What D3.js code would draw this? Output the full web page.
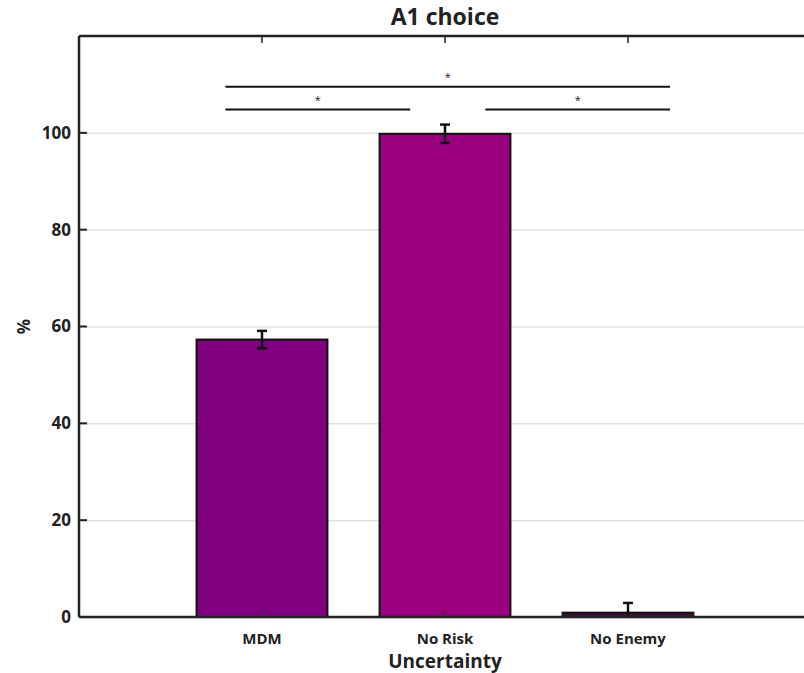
<!DOCTYPE html>
<html>
<head>
<meta charset="utf-8">
<script src="https://cdn.jsdelivr.net/npm/d3@7"></script>
<style>
  body { margin: 0; background: #fff; }
  text { font-family: "Open Sans", "DejaVu Sans", sans-serif; font-weight: 700; fill: #222; }
  .grid line { stroke: #e2e2e2; stroke-width: 1.5; }
  .grid path { display: none; }
</style>
</head>
<body>
<div id="container"></div>
<script>
// data
const categories = ['MDM', 'No Risk', 'No Enemy'];
const values = [57.3, 99.8, 0.9];
const errors = [1.8, 1.9, 2.0];
const barColors = ['#800080', '#9a0080', '#4a0a3e'];
const yTicks = [0, 20, 40, 60, 80, 100];
// significance brackets: from / to in category units, height in %
const sigFrom = [0.8, 0.8, 2.22];
const sigTo = [3.23, 1.81, 3.23];
const sigY = [109.5, 104.8, 104.8];

const W = 804, H = 673;
const margin = { top: 36, left: 79, bottom: 56 };
const plotRight = 811;

const svg = d3.select('#container').append('svg')
  .attr('width', W)
  .attr('height', H);

const x = d3.scaleLinear()
  .domain([0, categories.length + 1])
  .range([margin.left, plotRight]);

const y = d3.scaleLinear()
  .domain([0, 120])
  .range([H - margin.bottom, margin.top]);

const slot = x(1) - x(0);
const barW = slot * 0.715;

// grid lines
svg.append('g')
  .attr('class', 'grid')
  .attr('transform', `translate(${margin.left},0)`)
  .call(d3.axisRight(y).tickValues(yTicks).tickSize(plotRight - margin.left).tickFormat(''));

// bars
svg.selectAll('.bar')
  .data(values)
  .enter()
  .append('rect')
  .attr('class', 'bar')
  .attr('x', (d, i) => x(i + 1) - barW / 2)
  .attr('y', (d) => y(d))
  .attr('width', barW)
  .attr('height', (d) => y(0) - y(d))
  .attr('fill', (d, i) => barColors[i])
  .attr('stroke', '#111')
  .attr('stroke-width', 2);

// bottom ticks (pointing up, drawn over bars)
svg.append('g')
  .selectAll('line')
  .data(categories)
  .enter()
  .append('line')
  .attr('x1', (d, i) => x(i + 1))
  .attr('x2', (d, i) => x(i + 1))
  .attr('y1', y(0))
  .attr('y2', y(0) - 6)
  .attr('stroke', '#4a2a40')
  .attr('stroke-width', 1.5);

// error bars
svg.append('clipPath').attr('id', 'plotclip')
  .append('rect')
  .attr('x', margin.left).attr('y', margin.top)
  .attr('width', plotRight - margin.left).attr('height', y(0) - margin.top);

const eb = svg.append('g').attr('clip-path', 'url(#plotclip)')
  .selectAll('g')
  .data(values)
  .enter()
  .append('g');

eb.append('line')
  .attr('x1', (d, i) => x(i + 1))
  .attr('x2', (d, i) => x(i + 1))
  .attr('y1', (d, i) => y(d - errors[i]))
  .attr('y2', (d, i) => y(d + errors[i]))
  .attr('stroke', '#111')
  .attr('stroke-width', 2.5);

eb.append('line')
  .attr('x1', (d, i) => x(i + 1) - 5)
  .attr('x2', (d, i) => x(i + 1) + 5)
  .attr('y1', (d, i) => y(d + errors[i]))
  .attr('y2', (d, i) => y(d + errors[i]))
  .attr('stroke', '#111')
  .attr('stroke-width', 2.5);

eb.append('line')
  .attr('x1', (d, i) => x(i + 1) - 5)
  .attr('x2', (d, i) => x(i + 1) + 5)
  .attr('y1', (d, i) => y(d - errors[i]))
  .attr('y2', (d, i) => y(d - errors[i]))
  .attr('stroke', '#111')
  .attr('stroke-width', 2.5);

// axes
const axisColor = '#222';
svg.append('line')
  .attr('x1', margin.left).attr('x2', plotRight)
  .attr('y1', y(0)).attr('y2', y(0))
  .attr('stroke', axisColor).attr('stroke-width', 2.5);
svg.append('line')
  .attr('x1', margin.left).attr('x2', plotRight)
  .attr('y1', y(120)).attr('y2', y(120))
  .attr('stroke', axisColor).attr('stroke-width', 2.5);
svg.append('line')
  .attr('x1', margin.left).attr('x2', margin.left)
  .attr('y1', y(0)).attr('y2', y(120))
  .attr('stroke', axisColor).attr('stroke-width', 2.5);

// top ticks
svg.append('g')
  .selectAll('line')
  .data(categories)
  .enter()
  .append('line')
  .attr('x1', (d, i) => x(i + 1))
  .attr('x2', (d, i) => x(i + 1))
  .attr('y1', y(120))
  .attr('y2', y(120) + 7)
  .attr('stroke', axisColor)
  .attr('stroke-width', 1.5);

// left ticks + labels
const yAxis = svg.append('g')
  .selectAll('g')
  .data(yTicks)
  .enter()
  .append('g');

yAxis.append('line')
  .attr('x1', margin.left)
  .attr('x2', margin.left + 8)
  .attr('y1', (d) => y(d))
  .attr('y2', (d) => y(d))
  .attr('stroke', axisColor)
  .attr('stroke-width', 2);

yAxis.append('text')
  .attr('x', margin.left - 8)
  .attr('y', (d) => y(d))
  .attr('dy', '0.35em')
  .attr('text-anchor', 'end')
  .style('font-size', '17px')
  .text((d) => d);

// category labels
svg.append('g')
  .selectAll('text')
  .data(categories)
  .enter()
  .append('text')
  .attr('x', (d, i) => x(i + 1))
  .attr('y', y(0) + 27)
  .attr('text-anchor', 'middle')
  .style('font-size', '15px')
  .text((d) => d);

// significance brackets
const sig = svg.append('g')
  .selectAll('g')
  .data(sigY)
  .enter()
  .append('g');

sig.append('line')
  .attr('x1', (d, i) => x(sigFrom[i]))
  .attr('x2', (d, i) => x(sigTo[i]))
  .attr('y1', (d) => y(d))
  .attr('y2', (d) => y(d))
  .attr('stroke', '#111')
  .attr('stroke-width', 2);

sig.append('text')
  .attr('x', (d, i) => x((sigFrom[i] + sigTo[i]) / 2))
  .attr('y', (d) => y(d) - 6)
  .attr('text-anchor', 'middle')
  .style('font-size', '11px')
  .style('font-weight', 400)
  .text('*');

// titles
svg.append('text')
  .attr('x', x(2))
  .attr('y', 25)
  .attr('text-anchor', 'middle')
  .style('font-size', '23px')
  .text('A1 choice');

svg.append('text')
  .attr('x', x(2))
  .attr('y', y(0) + 51)
  .attr('text-anchor', 'middle')
  .style('font-size', '19px')
  .text('Uncertainty');

svg.append('text')
  .attr('transform', `translate(30, ${y(60)}) rotate(-90)`)
  .attr('text-anchor', 'middle')
  .style('font-size', '17px')
  .text('%');
</script>
</body>
</html>
